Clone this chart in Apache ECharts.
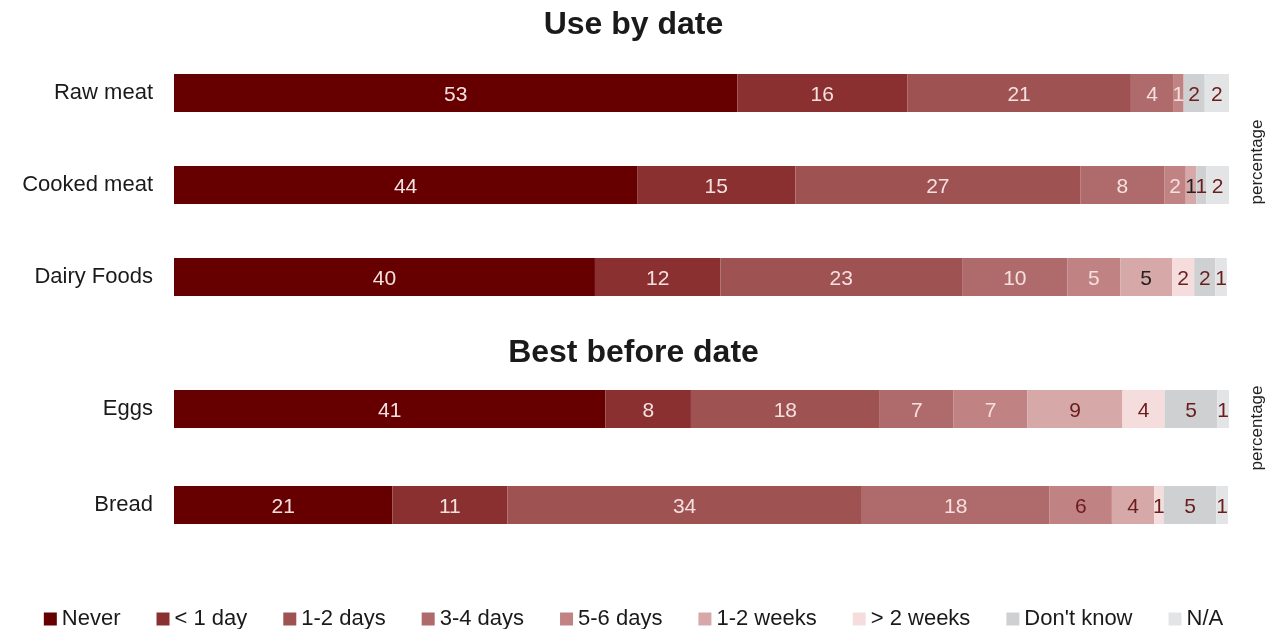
<!DOCTYPE html>
<html>
<head>
<meta charset="utf-8">
<script src="https://cdn.jsdelivr.net/npm/echarts@6/dist/echarts.min.js"></script>
<style>html,body{margin:0;padding:0;background:#fff}#c{width:1267px;height:629px}</style>
</head>
<body>
<div id="c"></div>
<script>
// Categories
const topFoods = ['Raw meat', 'Cooked meat', 'Dairy Foods'];
const bottomFoods = ['Eggs', 'Bread'];
const responses = ['Never', '< 1 day', '1-2 days', '3-4 days', '5-6 days', '1-2 weeks', '> 2 weeks', "Don't know", 'N/A'];
// Percentages per food, in the order of responses
const rawMeat    = [53.4, 16.1, 21.2, 4.0, 1.0, 0,   0,   2.0,  2.3];
const cookedMeat = [43.9, 15.0, 27.0, 8.0, 2.0, 1.0, 0,   0.95, 2.2];
const dairyFoods = [39.9, 11.9, 22.9, 10.0, 5.0, 4.9, 2.1, 2.0, 1.1];
const eggs       = [40.9, 8.1, 17.9, 7.0, 7.0, 9.0, 4.0, 5.0, 1.1];
const bread      = [20.7, 10.9, 33.6, 17.8, 5.9, 4.0, 0.9, 5.0, 1.1];

const colors = ['#660000', '#8a3030', '#9e5252', '#af6b6b', '#c08282', '#d6a8a8', '#f6dddd', '#cfd0d2', '#e3e4e6'];
const LIGHT = '#f5e0e0', DARKRED = '#6b1c1c', BLACK = '#222222';
const seriesLabelColor = [LIGHT, LIGHT, LIGHT, LIGHT, LIGHT, DARKRED, DARKRED, DARKRED, DARKRED];
// label colour exceptions: [food, responseIndex, colour]
const labelOverrides = [['Cooked meat', 5, BLACK], ['Dairy Foods', 5, BLACK], ['Bread', 4, DARKRED]];

const topRows = [rawMeat, cookedMeat, dairyFoods];
const bottomRows = [eggs, bread];

const font = 'Liberation Sans, Arial, sans-serif';

function labelColor(food, r) {
  for (const o of labelOverrides) if (o[0] === food && o[1] === r) return o[2];
  return seriesLabelColor[r];
}
function makeSeries(foods, rows, gi) {
  return responses.map((name, r) => ({
    name: name,
    type: 'bar',
    stack: 'g' + gi,
    xAxisIndex: gi,
    yAxisIndex: gi,
    barWidth: 38,
    itemStyle: { color: colors[r] },
    label: {
      show: true, position: 'inside', fontSize: 21, offset: [0, 2],
      fontFamily: font,
      formatter: p => p.value >= 0.5 ? String(Math.round(p.value)) : ''
    },
    data: rows.map((row, i) => ({ value: row[r], label: { color: labelColor(foods[i], r) } })),
    emphasis: { disabled: true }
  }));
}

const chart = echarts.init(document.getElementById('c'));
const yAxisCommon = {
  type: 'category', inverse: true,
  axisLine: { show: false }, axisTick: { show: false }, splitLine: { show: false },
  axisLabel: { fontSize: 22, color: '#1a1a1a', margin: 21, fontFamily: font }
};
chart.setOption({
  animation: false,
  title: [
    { text: 'Use by date', left: 'center', top: 4, textStyle: { fontSize: 32, fontWeight: 'bold', color: '#1a1a1a', fontFamily: font } },
    { text: 'Best before date', left: 'center', top: 332, textStyle: { fontSize: 32, fontWeight: 'bold', color: '#1a1a1a', fontFamily: font } }
  ],
  legend: {
    data: responses, left: 'center', top: 608, padding: 0,
    icon: 'rect', itemWidth: 13, itemHeight: 13, itemGap: 36,
    textStyle: { fontSize: 22, color: '#1a1a1a', fontFamily: font }
  },
  grid: [
    { left: 174, right: 38, top: 47, height: 276 },
    { left: 174, right: 38, top: 361, height: 192 }
  ],
  xAxis: [
    { gridIndex: 0, type: 'value', min: 0, max: 100, show: false },
    { gridIndex: 1, type: 'value', min: 0, max: 100, show: false }
  ],
  yAxis: [
    Object.assign({ gridIndex: 0, data: topFoods }, yAxisCommon),
    Object.assign({ gridIndex: 1, data: bottomFoods }, yAxisCommon)
  ],
  graphic: [
    { type: 'text', x: 1257, y: 162, rotation: Math.PI / 2, style: { text: 'percentage', fill: '#222', font: '17px Liberation Sans, Arial, sans-serif', align: 'center', verticalAlign: 'middle' } },
    { type: 'text', x: 1257, y: 428, rotation: Math.PI / 2, style: { text: 'percentage', fill: '#222', font: '17px Liberation Sans, Arial, sans-serif', align: 'center', verticalAlign: 'middle' } }
  ],
  series: makeSeries(topFoods, topRows, 0).concat(makeSeries(bottomFoods, bottomRows, 1))
});
</script>
</body>
</html>
